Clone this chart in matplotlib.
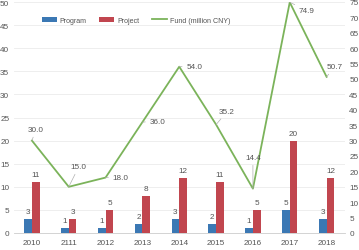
import matplotlib
matplotlib.use('Agg')
import matplotlib.pyplot as plt
import numpy as np

# ==========================================================
# DATA
# ==========================================================
years = ['2010', '2111', '2012', '2013', '2014', '2015', '2016', '2017', '2018']
program = [3, 1, 1, 2, 3, 2, 1, 5, 3]
project = [11, 3, 5, 8, 12, 11, 5, 20, 12]
fund = [30.0, 15.0, 18.0, 36.0, 54.0, 35.2, 14.4, 74.9, 50.7]
# label offsets for fund values (pixels)
fund_offsets = [(4, 11), (10, 20), (15, 0), (15, 1), (15, 0), (11, 13), (0, 31), (17, -8), (8, 10)]
# ==========================================================

plt.rcParams['font.family'] = ['Liberation Sans', 'DejaVu Sans']

blue = '#3b78b4'
red = '#c1464f'
green = '#7bb35a'
txt = '#555555'
fs = 5.9

W, H, dpi = 359, 251, 100
fig = plt.figure(figsize=(W / dpi, H / dpi), dpi=dpi)
ax = fig.add_axes([13.5 / W, 1 - 234 / H, (345 - 13.5) / W, (234 - 3) / H])
ax2 = ax.twinx()

x = np.arange(len(years))
bw = 0.21
ax.bar(x - bw / 2, program, bw, color=blue, label='Program', zorder=2)
ax.bar(x + bw / 2, project, bw, color=red, label='Project', zorder=2)

for xi, v in zip(x, program):
    ax.annotate(str(v), (xi - bw / 2, v), xytext=(0, 4), textcoords='offset pixels',
                ha='center', va='bottom', fontsize=fs, color=txt)
for xi, v in zip(x, project):
    ax.annotate(str(v), (xi + bw / 2, v), xytext=(0, 4), textcoords='offset pixels',
                ha='center', va='bottom', fontsize=fs, color=txt)

ax2.plot(x, fund, color=green, lw=1.3, label='Fund (million CNY)', zorder=3)
for xi, v, off in zip(x, fund, fund_offsets):
    ax2.annotate(f'{v:.1f}', (xi, v), xytext=off, textcoords='offset pixels',
                 ha='center', va='center', fontsize=fs, color=txt,
                 arrowprops=dict(arrowstyle='-', color='#b0b0b0', lw=0.5,
                                 shrinkA=1, shrinkB=0))

ax.set_xlim(-0.5, len(years) - 0.5)
ax.set_ylim(0, 50)
ax2.set_ylim(0, 75)
ax.set_yticks(np.arange(0, 51, 5))
ax2.set_yticks(np.arange(0, 76, 5))
ax.set_xticks(x)
ax.set_xticklabels(years)

ax.grid(axis='y', color='#ebebeb', lw=0.6, zorder=0)
ax.set_axisbelow(True)
for a in (ax, ax2):
    for s in a.spines.values():
        s.set_visible(False)
    a.tick_params(length=0, labelsize=fs, labelcolor=txt, pad=4)
ax.spines['bottom'].set_visible(True)
ax.spines['bottom'].set_color('#cccccc')
ax.spines['bottom'].set_linewidth(0.6)
ax.tick_params(axis='y', pad=3)
ax2.tick_params(axis='y', pad=3)

h1, l1 = ax.get_legend_handles_labels()
h2, l2 = ax2.get_legend_handles_labels()
ax.legend(h1 + h2, l1 + l2, loc='center', bbox_to_anchor=(0.37, 0.92), ncol=3,
          frameon=False, fontsize=5.1, handlelength=2.1, handleheight=0.75,
          columnspacing=1.8, handletextpad=0.4, labelcolor=txt)

fig.savefig('out.png', dpi=dpi)
